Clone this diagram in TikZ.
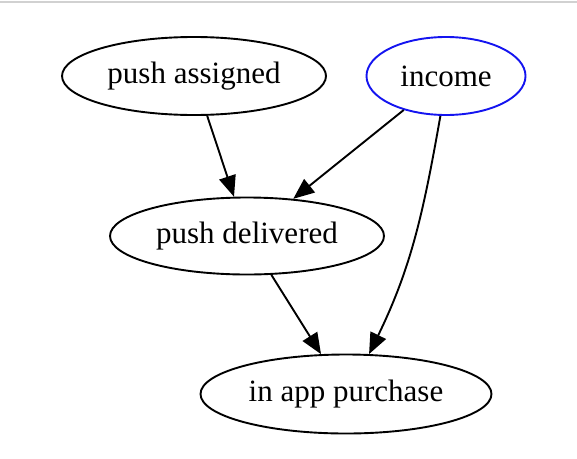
\documentclass[tikz,border=0pt]{standalone}
\usepackage{fontspec}
\setmainfont{Liberation Serif}
\usetikzlibrary{arrows.meta,shapes.geometric}
\tikzset{
  gnode/.style={ellipse,draw=black,line width=1.9pt,inner sep=0pt,font=\fontsize{31}{35}\selectfont},
  gedge/.style={draw=black,line width=1.9pt,-{Triangle[length=21pt,width=17pt]}},
}
\begin{document}
\begin{tikzpicture}[x=1pt,y=-1pt]
\useasboundingbox (0,0) rectangle (577,458);
\fill[white] (0,0) rectangle (577,458);
\draw[line width=2pt,draw=black!18] (0,2) -- (577,2);
\node[gnode,minimum width=264pt,minimum height=78pt] (pa) at (194,76) {push assigned};
\node[gnode,draw={rgb,255:red,20;green,20;blue,240},minimum width=159pt,minimum height=78pt] (inc) at (446,76) {income};
\node[gnode,minimum width=274pt,minimum height=77pt] (pd) at (247,236) {push delivered};
\node[gnode,minimum width=291pt,minimum height=79pt] (iap) at (346,394) {in app purchase};
\path[gedge] (pa) -- (pd);
\path[gedge] (inc) -- (pd);
\path[gedge] (pd) -- (iap);
\path[gedge] (inc.-98) to[out=-100,in=64] (iap.60);
\end{tikzpicture}
\end{document}
